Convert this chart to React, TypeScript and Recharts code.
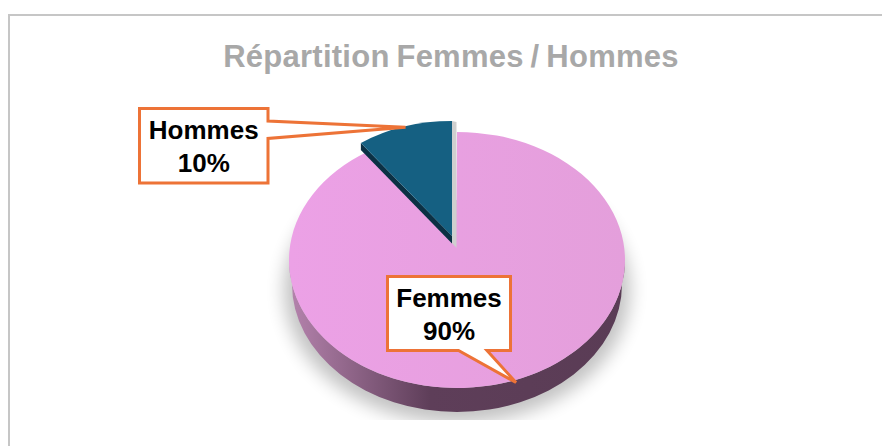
import { Pie, PieChart } from 'recharts';

const categories = ['Femmes', 'Hommes'];
const shares = [90, 10];
const chartTitle = 'Répartition Femmes / Hommes';

const rows = categories.map((name, i) => ({ name, value: shares[i] }));

const FONT = '"Liberation Sans", Arial, sans-serif';
const ORANGE = '#ED7337';
const FACE_SQUASH = 128 / 168;
const DEPTH = 24;

function arcPoint(cx: number, cy: number, rx: number, ry: number, angle: number) {
    const rad = (angle * Math.PI) / 180;
    return { x: cx + rx * Math.cos(rad), y: cy - ry * Math.sin(rad) };
}

function PieSlice(props: any) {
    const { cx, cy, outerRadius, startAngle, endAngle, name } = props;

    if (name === 'Hommes') {
        // exploded slice, a bit smaller and shifted up-left
        const rx = outerRadius * 0.923;
        const ry = rx * 0.742;
        const ax = cx - 5;
        const ay = cy - 24;
        const a = arcPoint(ax, ay, rx, ry, startAngle);
        const b = arcPoint(ax, ay, rx, ry, endAngle);
        return (
            <g>
                <path d={`M${ax} ${ay + 7} L${ax + 4.5} ${ay + 12} L${ax + 4.5} ${b.y + 1} L${ax} ${b.y} Z`} fill="#cfcfcf" />
                <path d={`M${a.x} ${a.y} L${a.x} ${a.y + 7} L${ax} ${ay + 7.5} L${ax} ${ay} Z`} fill="#0b3044" />
                <path d={`M${ax} ${ay} L${a.x} ${a.y} A${rx} ${ry} 0 0 1 ${b.x} ${b.y} Z`} fill="#156082" />
            </g>
        );
    }

    const rx = outerRadius;
    const ry = outerRadius * FACE_SQUASH;
    const ax = cx - 1;
    const ay = cy - 13;
    const a = arcPoint(cx, cy, rx, ry, startAngle);
    // run a little under the exploded slice so no gap shows
    const b = arcPoint(cx, cy, rx, ry, endAngle - 4);
    return (
        <g>
            <defs>
                <filter id="pieBlur" x="-20%" y="-20%" width="140%" height="140%">
                    <feGaussianBlur stdDeviation="9" />
                </filter>
                <clipPath id="shadowClip">
                    <rect x={cx - 220} y={cy - 60} width={440} height={220} />
                </clipPath>
                <linearGradient id="sideFill" x1="0" y1="0" x2="1" y2="0">
                    <stop offset="0" stopColor="#b583ad" />
                    <stop offset="0.42" stopColor="#5e3e59" />
                    <stop offset="1" stopColor="#5a3c55" />
                </linearGradient>
                <linearGradient id="faceFill" x1="0" y1="0" x2="1" y2="0">
                    <stop offset="0" stopColor="#eca1e6" />
                    <stop offset="1" stopColor="#e49fdb" />
                </linearGradient>
            </defs>
            <g clipPath="url(#shadowClip)">
                <ellipse cx={cx} cy={cy + 30} rx={rx + 5} ry={ry + 5} fill="#000" opacity={0.24} filter="url(#pieBlur)" />
            </g>
            <path
                d={`M${cx - rx} ${cy} A${rx} ${ry} 0 0 0 ${cx + rx} ${cy} L${cx + rx - 3} ${cy + DEPTH} A${rx - 3} ${ry} 0 0 1 ${cx - rx + 3} ${cy + DEPTH} Z`}
                fill="url(#sideFill)"
            />
            <path d={`M${ax} ${ay} L${a.x} ${a.y} A${rx} ${ry} 0 1 1 ${b.x} ${b.y} Z`} fill="url(#faceFill)" />
        </g>
    );
}

const calloutBoxes: Record<string, any> = {
    Hommes: { x: 139.5, y: 108.5, w: 128.5, h: 74.5, pointer: [[268, 121], [405.5, 127.3], [268, 138.5]], side: 'right' },
    Femmes: { x: 387.5, y: 276.5, w: 123, h: 74, pointer: [[487, 350.5], [516, 382.5], [458.5, 350.5]], side: 'bottom' },
};

function Callout(props: any) {
    const { name, value } = props;
    const box = calloutBoxes[name];
    if (!box) return null;
    const { x, y, w, h, pointer } = box;
    const [p0, tip, p1] = pointer;
    let outline = '';
    if (box.side === 'right') {
        outline = `M${x} ${y} H${x + w} V${p0[1]} L${tip[0]} ${tip[1]} L${p1[0]} ${p1[1]} V${y + h} H${x} Z`;
    } else {
        outline = `M${x} ${y} H${x + w} V${y + h} H${p0[0]} L${tip[0]} ${tip[1]} L${p1[0]} ${p1[1]} H${x} Z`;
    }
    const mid = x + w / 2;
    return (
        <g>
            <path d={outline} fill="#fff" stroke={ORANGE} strokeWidth={3} strokeLinejoin="miter" />
            <text x={mid} y={y + 30} textAnchor="middle" fontFamily={FONT} fontWeight={700} fontSize={26} fill="#000">
                {name}
            </text>
            <text x={mid} y={y + 63} textAnchor="middle" fontFamily={FONT} fontWeight={700} fontSize={26} fill="#000">
                {value}%
            </text>
        </g>
    );
}

export default function App() {
    return (
        <div style={{ position: 'absolute', left: 0, top: 0, width: 882, height: 446, background: '#fff', overflow: 'hidden' }}>
            <div
                style={{
                    position: 'absolute',
                    left: 8,
                    top: 14,
                    width: 890,
                    height: 450,
                    borderLeft: '2px solid #c6c6c6',
                    borderTop: '2px solid #c6c6c6',
                }}
            />
            <div
                style={{
                    position: 'absolute',
                    left: 0,
                    top: 39,
                    width: 902,
                    textAlign: 'center',
                    fontFamily: FONT,
                    fontWeight: 700,
                    fontSize: 31,
                    lineHeight: '35px',
                    letterSpacing: 0.25,
                    wordSpacing: -2,
                    color: '#a8a8a8',
                }}
            >
                {chartTitle}
            </div>
            <div style={{ position: 'absolute', left: 0, top: 0 }}>
                <PieChart width={882} height={446} margin={{ top: 0, right: 0, bottom: 0, left: 0 }}>
                    <Pie
                        data={rows}
                        dataKey="value"
                        nameKey="name"
                        cx={457}
                        cy={260}
                        outerRadius={168}
                        startAngle={90}
                        endAngle={-270}
                        stroke="none"
                        shape={PieSlice}
                        label={Callout}
                        labelLine={false}
                        isAnimationActive={false}
                    />
                </PieChart>
            </div>
        </div>
    );
}
